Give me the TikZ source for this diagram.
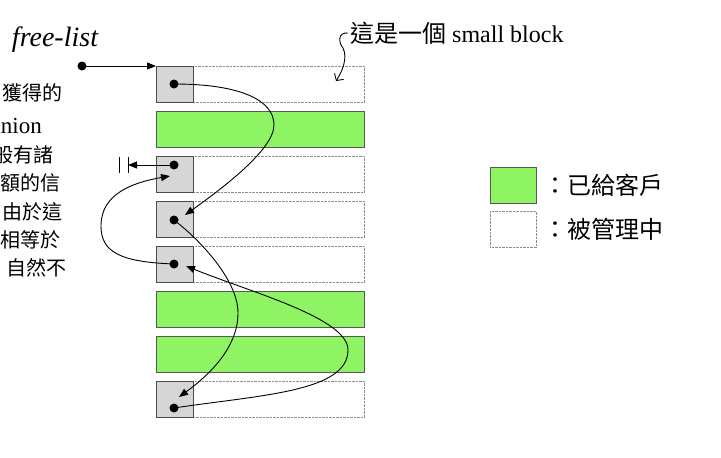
\documentclass[tikz,border=0pt]{standalone}
\usepackage{fontspec}
\setmainfont{Liberation Serif}
\newfontfamily\cjk{Noto Sans CJK TC}
\usetikzlibrary{arrows.meta}
\definecolor{usedgreen}{RGB}{142,244,100}

\begin{document}
\begin{tikzpicture}[x=1pt,y=-1pt,
  blk/.style={minimum width=208pt,minimum height=36pt,inner sep=0,anchor=north west},
  used/.style={blk,draw=black!65,fill=usedgreen,line width=0.8pt},
  free/.style={blk,draw=black!45,line width=0.8pt,dash pattern=on 0.7pt off 0.7pt},
  cell/.style={blk,minimum width=37pt,draw=black!70,fill=black!16,line width=0.8pt},
  link/.style={line width=0.9pt,-{Triangle[length=9pt,width=7pt]}},
  txt/.style={font=\fontsize{24}{28}\selectfont,inner sep=0},
  side/.style={font=\fontsize{20}{24}\selectfont\cjk,inner sep=0,anchor=east}]
\useasboundingbox (0,0) rectangle (721,458);
% the eight blocks and their link cells
\foreach \k/\s in {1/free,2/used,3/free,4/free,5/free,6/used,7/used,8/free}
  \node[\s] (r\k) at (156,{21+45*\k}) {};
\foreach \k in {1,3,4,5,8}
  \node[cell] (c\k) at (r\k.north west) {};
\foreach \k/\dy in {1/18,3/9,4/19,5/18,8/27}
  \fill ([shift={(18,\dy)}]c\k.north west) coordinate (d\k) circle (4.5pt);
\coordinate (t4) at ([shift={(29,14)}]c4.north west);
\coordinate (t3) at ([shift={(14,20)}]c3.north west);
\coordinate (t5) at ([shift={(30,20)}]c5.north west);
\coordinate (t8) at ([shift={(23,16)}]c8.north west);
% free-list head
\node[txt,font=\fontsize{28}{32}\selectfont\itshape] (fl) at (55,40) {free-list};
\fill (82,66) coordinate (hd) circle (4.5pt);
\draw[link] (hd) -- (c1.north west);
% links
\draw[link] (d1) .. controls (240,84) and (274,100) .. (274,125) .. controls (274,150) and (220,190) .. (t4);
\draw[link] (d4) .. controls (200,240) and (238,280) .. (238,313) .. controls (238,350) and (205,378) .. (t8);
\draw[link] (d8) .. controls (260,395) and (348,392) .. (348,350) .. controls (348,318) and (250,292) .. (t5);
\draw[link] (d5) .. controls (120,262) and (101,252) .. (101,226) .. controls (101,195) and (130,183) .. (t3);
\coordinate (nil) at (128,165);
\draw[link] (d3) -- (nil);
\draw[line width=1pt] ([yshift=-8pt]nil) -- ([yshift=8pt]nil)
  ([shift={(-9,-8)}]nil) -- ([shift={(-9,8)}]nil);
% note on a small block
\node[txt,anchor=west] (sb) at (350,33) {{\cjk 這是一個} small block};
\draw[line width=0.9pt,-{Straight Barb[length=5pt,width=11pt]}] ([xshift=-2pt]sb.west)
  .. controls (338,32) and (338,42) .. (343,48) .. controls (348,58) and (342,72) .. (336,81);
% legend
\node[used,minimum width=46pt] (k1) at (490,167) {};
\node[free,minimum width=46pt] (k2) at (490,211) {};
\node[txt,anchor=west] at ([xshift=6pt]k1.east) {\cjk ：已給客戶};
\node[txt,anchor=west] at ([xshift=6pt]k2.east) {\cjk ：被管理中};
% clipped side text
\node[side] at (63,93) {獲得的};
\node[side,font=\fontsize{23}{27}\selectfont] at (42,126) {union};
\node[side] at (54,155) {般有諸};
\node[side] at (61,183) {額的信};
\node[side] at (63,212) {由於這};
\node[side] at (61,240) {相等於};
\node[side] at (67,268) {自然不};
\end{tikzpicture}
\end{document}
